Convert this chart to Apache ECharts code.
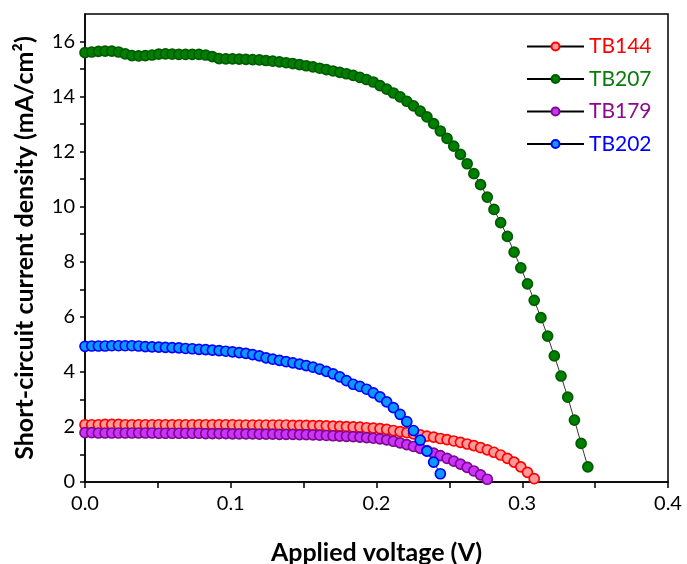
<!DOCTYPE html>
<html><head><meta charset="utf-8">
<script src="https://cdn.jsdelivr.net/npm/echarts@6/dist/echarts.min.js"></script>
<style>html,body{margin:0;padding:0;background:#fff}#c{width:687px;height:564px}</style>
</head><body><div id="c"></div>
<script>
var V = [0,0.0046,0.0092,0.0138,0.0184,0.023,0.0276,0.0322,0.0368,0.0414,
0.046,0.0506,0.0552,0.0598,0.0644,0.069,0.0736,0.0782,0.0828,0.0874,
0.092,0.0966,0.1012,0.1058,0.1104,0.115,0.1196,0.1242,0.1288,0.1334,
0.138,0.1426,0.1472,0.1518,0.1564,0.161,0.1656,0.1702,0.1748,0.1794,
0.184,0.1886,0.1932,0.1978,0.2024,0.207,0.2116,0.2162,0.2208,0.2254,
0.23,0.2346,0.2392,0.2438,0.2484,0.253,0.2576,0.2622,0.2668,0.2714,
0.276,0.2806,0.2852,0.2898,0.2944,0.299,0.3036,0.3082,0.3128,0.3174,
0.322,0.3266,0.3312,0.3358,0.3404,0.345];

var TB144 = [2.08,2.08,2.08,2.09,2.09,2.09,2.08,2.08,2.08,2.08,
2.08,2.08,2.08,2.08,2.08,2.08,2.08,2.08,2.08,2.08,
2.08,2.08,2.08,2.07,2.07,2.07,2.07,2.07,2.07,2.07,
2.07,2.06,2.06,2.06,2.05,2.05,2.04,2.03,2.02,2.01,
2.00,1.99,1.97,1.96,1.94,1.91,1.87,1.83,1.79,1.75,
1.71,1.67,1.63,1.58,1.54,1.49,1.44,1.38,1.32,1.25,
1.17,1.08,0.98,0.86,0.72,0.55,0.35,0.12];

var TB207 = [15.60,15.62,15.64,15.65,15.65,15.62,15.55,15.49,15.48,15.49,
15.51,15.54,15.55,15.54,15.53,15.53,15.53,15.53,15.51,15.45,
15.38,15.37,15.37,15.36,15.35,15.34,15.33,15.31,15.29,15.26,
15.23,15.20,15.16,15.12,15.08,15.03,14.98,14.93,14.88,14.83,
14.77,14.70,14.62,14.53,14.40,14.27,14.13,13.99,13.83,13.66,
13.47,13.26,13.02,12.75,12.48,12.20,11.90,11.56,11.20,10.80,
10.35,9.90,9.42,8.92,8.35,7.78,7.20,6.60,5.97,5.30,
4.58,3.85,3.08,2.25,1.40,0.55];

var TB179 = [1.79,1.79,1.78,1.78,1.78,1.78,1.78,1.78,1.78,1.78,
1.78,1.77,1.77,1.77,1.77,1.77,1.77,1.77,1.76,1.76,
1.76,1.76,1.75,1.75,1.75,1.75,1.74,1.74,1.74,1.73,
1.73,1.73,1.72,1.72,1.71,1.70,1.69,1.68,1.67,1.66,
1.65,1.63,1.61,1.59,1.57,1.53,1.48,1.42,1.36,1.29,
1.22,1.14,1.05,0.96,0.86,0.76,0.65,0.53,0.40,0.26,
0.10];

var TB202 = [4.93,4.94,4.94,4.94,4.95,4.95,4.95,4.95,4.94,4.92,
4.91,4.90,4.89,4.88,4.87,4.85,4.84,4.82,4.81,4.79,
4.77,4.75,4.73,4.70,4.67,4.63,4.58,4.51,4.46,4.42,
4.37,4.33,4.28,4.23,4.17,4.10,4.02,3.93,3.82,3.68,
3.55,3.47,3.37,3.24,3.09,2.91,2.70,2.46,2.19,1.87,
1.52,1.12,0.72,0.30];

var xTicks = [0,0.05,0.1,0.15,0.2,0.25,0.3,0.35,0.4];
var xLabels = [0,0.1,0.2,0.3,0.4];
var yTicks = [0,1,2,3,4,5,6,7,8,9,10,11,12,13,14,15,16];
var yLabels = [0,2,4,6,8,10,12,14,16];

function pairs(ys){ var out=[]; for(var i=0;i<ys.length;i++) out.push([V[i], ys[i]]); return out; }

var FONT = 'Lato';
function mk(name, ys, fill, border){
  return {
    name: name, type: 'line', data: pairs(ys),
    symbol: 'circle', symbolSize: 10, showSymbol: true,
    lineStyle: {color: '#000', width: 0.8},
    itemStyle: {color: fill, borderColor: border, borderWidth: 1.7},
    emphasis: {disabled: true}, animation: false
  };
}

var chart = echarts.init(document.getElementById('c'));
chart.setOption({
  backgroundColor: '#fff',
  animation: false,
  textStyle: {fontFamily: FONT},
  grid: {left: 85, right: 19, top: 14, bottom: 82, outerBoundsMode: 'none', containLabel: false,
         show: true, borderColor: '#000', borderWidth: 1.5, backgroundColor: 'transparent'},
  legend: {
    orient: 'vertical', left: 526, top: 35, padding: 0, itemWidth: 57, itemHeight: 10, itemGap: 9.5,
    textStyle: {fontSize: 21, fontFamily: FONT, lineHeight: 23, padding: [0,0,0,0]},
    data: [
      {name: 'TB144', textStyle: {color: '#ff0000'}},
      {name: 'TB207', textStyle: {color: '#0a7a0a'}},
      {name: 'TB179', textStyle: {color: '#8b0a8b'}},
      {name: 'TB202', textStyle: {color: '#0000ff'}}
    ]
  },
  xAxis: {
    type: 'value', min: 0, max: 0.4,
    name: 'Applied voltage (V)', nameLocation: 'middle', nameGap: 58,
    nameTextStyle: {fontSize: 25, fontWeight: 'bold', color: '#000', fontFamily: FONT},
    axisLine: {show: true, lineStyle: {color: '#000', width: 1.5}},
    axisTick: {show: true, length: 6, customValues: xTicks, lineStyle: {color: '#000', width: 1.5}},
    axisLabel: {customValues: xLabels, fontSize: 20, color: '#000', margin: 12, formatter: function(v){return v.toFixed(1);}},
    splitLine: {show: false}
  },
  yAxis: {
    type: 'value', min: 0, max: 17,
    name: 'Short-circuit current density (mA/cm²)', nameLocation: 'middle', nameGap: 48,
    nameTextStyle: {fontSize: 25, fontWeight: 'bold', color: '#000', fontFamily: FONT},
    axisLine: {show: true, lineStyle: {color: '#000', width: 1.5}},
    axisTick: {show: true, length: 5, customValues: yTicks, lineStyle: {color: '#000', width: 1.5}},
    axisLabel: {customValues: yLabels, fontSize: 20, color: '#000', margin: 10},
    splitLine: {show: false}
  },
  series: [
    mk('TB144', TB144, '#ff9a9a', '#ff0000'),
    mk('TB207', TB207, '#008000', '#005a00'),
    mk('TB179', TB179, '#cc33ff', '#7d0a8a'),
    mk('TB202', TB202, '#0a9aff', '#0000ff')
  ]
});
</script>
</body></html>
